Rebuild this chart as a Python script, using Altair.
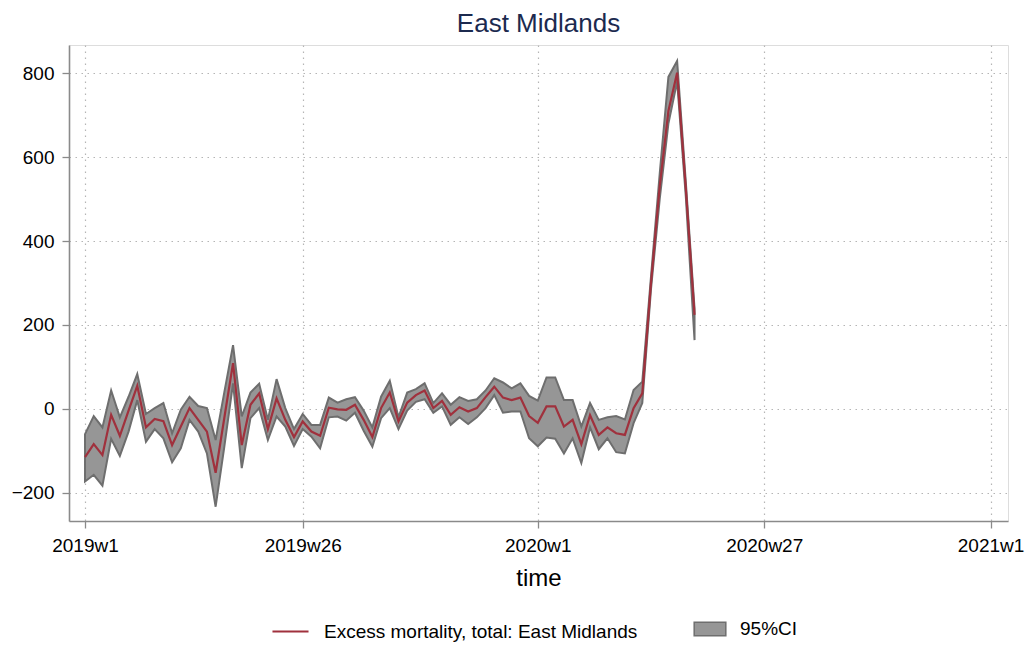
import altair as alt
import pandas as pd

# week index: 0 = 2019w1
weeks = list(range(71))

estimate = [-115, -84, -110, -14, -64, -4, 55, -44, -24, -29,
            -86, -42, 2, -26, -54, -152, -21, 109, -86, 10,
            37, -48, 25, -26, -67, -30, -54, -64, 3, -1,
            -2, 10, -26, -67, 2, 39, -30, 15, 33, 44,
            2, 19, -14, 4, -6, 2, 28, 53, 27, 21,
            27, -17, -33, 6, 6, -42, -26, -84, -15, -62,
            -44, -58, -62, 2, 37, 300, 530, 710, 801, 525,
            224]

upper = [-60, -17, -44, 44, -20, 29, 83, -12, 2, 14,
         -58, -2, 29, 7, 2, -74, 40, 152, -18, 39,
         60, -26, 71, 2, -48, -12, -38, -38, 27, 15,
         23, 28, -4, -44, 29, 67, -20, 39, 47, 61,
         14, 37, 10, 28, 19, 23, 44, 73, 63, 49,
         61, 31, 20, 75, 75, 21, 21, -42, 14, -26,
         -20, -17, -25, 45, 65, 315, 560, 791, 829, 540,
         240]

lower = [-173, -157, -183, -71, -112, -54, 21, -78, -48, -70,
         -127, -94, -26, -54, -106, -233, -90, 61, -141, -22,
         2, -74, -18, -42, -88, -48, -66, -94, -20, -18,
         -28, -9, -52, -90, -22, 2, -48, -4, 17, 23,
         -9, 6, -38, -20, -36, -20, 2, 33, -9, -6,
         -6, -70, -89, -68, -71, -106, -70, -129, -44, -96,
         -70, -103, -106, -34, 14, 285, 500, 680, 780, 505,
         164]

xtick_values = [0, 25, 52, 78, 104]
xtick_labels = ["2019w1", "2019w26", "2020w1", "2020w27", "2021w1"]
ytick_values = [-200, 0, 200, 400, 600, 800]

series_name = "Excess mortality, total: East Midlands"
ci_name = "95%CI"

df = pd.DataFrame({
    "week": weeks,
    "est": estimate,
    "lo": lower,
    "hi": upper,
    "series": series_name,
    "ci": ci_name,
})

FONT = "Liberation Sans"
LINE_COLOR = "#a0313d"
FILL_COLOR = "#969696"
EDGE_COLOR = "#6e6e6e"

label_expr = " : ".join(
    f"datum.value == {v} ? '{l}'" for v, l in zip(xtick_values, xtick_labels)
) + " : ''"

x_scale = alt.Scale(domain=[-1.84, 106], nice=False, zero=False)
y_scale = alt.Scale(domain=[-267, 867], nice=False, zero=False)

x_axis = alt.Axis(
    values=xtick_values, labelExpr=label_expr, title="time",
    grid=True, gridDash=[1.5, 4.5], gridColor="#b5b5b5", gridWidth=1.2,
    domainColor="#8a8a8a", domainWidth=1.6, tickColor="#8a8a8a", tickWidth=1.3,
    tickSize=7, labelPadding=8, labelFontSize=19, labelFont=FONT, labelColor="#000000",
    titleFontSize=24, titleFont=FONT, titleFontWeight="normal", titleColor="#000000",
    titlePadding=11, labelFlush=False,
)
y_axis = alt.Axis(
    values=ytick_values, title=None,
    grid=True, gridDash=[1.5, 4.5], gridColor="#b5b5b5", gridWidth=1.2,
    domainColor="#8a8a8a", domainWidth=1.6, tickColor="#8a8a8a", tickWidth=1.3,
    tickSize=7, labelPadding=8, labelFontSize=19, labelFont=FONT, labelColor="#000000",
    labelExpr="replace(datum.label, '-', '\u2212')",
)

base = alt.Chart(df)

band = base.mark_area(stroke=EDGE_COLOR, strokeWidth=2, opacity=1).encode(
    x=alt.X("week:Q", scale=x_scale, axis=x_axis),
    y=alt.Y("lo:Q", scale=y_scale, axis=y_axis),
    y2="hi:Q",
    fill=alt.Fill(
        "ci:N",
        scale=alt.Scale(domain=[ci_name], range=[FILL_COLOR]),
        legend=alt.Legend(
            title=None, orient="none", legendX=624, legendY=567,
            symbolType="M-1,-0.42H1V0.42H-1Z", symbolSize=1000,
            symbolStrokeColor=EDGE_COLOR, symbolStrokeWidth=1.5,
            symbolFillColor=FILL_COLOR, symbolOpacity=1,
            labelFontSize=19, labelFont=FONT, labelColor="#000000", labelOffset=13,
            labelLimit=0,
        ),
    ),
)

line = base.mark_line(strokeWidth=2.2).encode(
    x=alt.X("week:Q", scale=x_scale),
    y=alt.Y("est:Q", scale=y_scale),
    stroke=alt.Stroke(
        "series:N",
        scale=alt.Scale(domain=[series_name], range=[LINE_COLOR]),
        legend=alt.Legend(
            title=None, orient="none", legendX=202, legendY=567,
            symbolType="stroke", symbolSize=1300, symbolStrokeWidth=2,
            labelFontSize=19, labelFont=FONT, labelColor="#000000", labelOffset=14,
            labelLimit=0,
        ),
    ),
)

chart = alt.layer(band, line).properties(
    width=939,
    height=476,
    padding={"left": 61, "top": 37, "right": 18, "bottom": 121},
    autosize=alt.AutoSizeParams(type="none"),
    title=alt.TitleParams(
        "East Midlands", fontSize=26, font=FONT, fontWeight="normal",
        color="#1c2a4f", anchor="middle", offset=8,
    ),
).resolve_scale(fill="independent", stroke="independent").configure_view(
    stroke=None
).configure(background="white")

chart.save("out.html", embed_options={"renderer": "svg", "actions": False})
